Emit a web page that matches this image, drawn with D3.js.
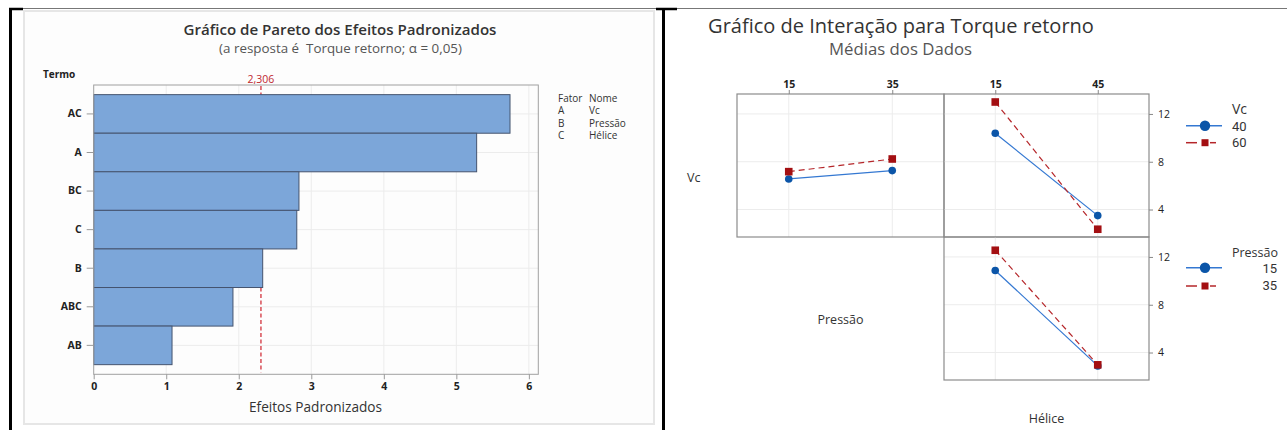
<!DOCTYPE html>
<html>
<head>
<meta charset="utf-8">
<script src="https://cdn.jsdelivr.net/npm/d3@7"></script>
<style>
  html, body { margin: 0; padding: 0; background: #fff; }
  svg { display: block; font-family: "Open Sans", "Noto Sans", sans-serif; }
  .pre { white-space: pre; }
</style>
</head>
<body>
<svg id="chart" width="1287" height="430"></svg>
<script>
// ---- Pareto of standardized effects ----
const paretoTerms = ["AC", "A", "BC", "C", "B", "ABC", "AB"];
const paretoEffects = [5.74, 5.28, 2.83, 2.80, 2.33, 1.92, 1.08];
const criticalValue = 2.306;
const criticalLabel = "2,306";
const paretoTickValues = [0, 1, 2, 3, 4, 5, 6];
const factorCodes = ["A", "B", "C"];
const factorNames = ["Vc", "Pressão", "Hélice"];

// ---- Interaction plot (means of data) ----
const vcLevels = ["40", "60"];
const pressaoLevels = [15, 35];
const heliceLevels = [15, 45];
const vc40ByPressao = [6.56, 7.26];
const vc60ByPressao = [7.17, 8.23];
const vc40ByHelice = [10.38, 3.49];
const vc60ByHelice = [13.0, 2.35];
const pressao15ByHelice = [10.87, 2.88];
const pressao35ByHelice = [12.56, 2.97];
const meanTickValues = [4, 8, 12];

const svg = d3.select("#chart");

// shrink/grow a text element's font so it spans the given width
function fitWidth(sel, w) {
  const node = sel.node();
  const fs = parseFloat(sel.attr("font-size"));
  const len = node.getComputedTextLength();
  if (len > 0) sel.attr("font-size", (fs * w / len).toFixed(2));
  return sel;
}

// ---- cell borders of the surrounding table ----
svg.append("line").attr("x1", 10).attr("x2", 1287).attr("y1", 8.5).attr("y2", 8.5)
  .attr("stroke", "#777").attr("stroke-width", 1);
svg.append("line").attr("x1", 9).attr("x2", 23).attr("y1", 9).attr("y2", 9)
  .attr("stroke", "#000").attr("stroke-width", 2.5);
svg.append("line").attr("x1", 656).attr("x2", 677).attr("y1", 9).attr("y2", 9)
  .attr("stroke", "#000").attr("stroke-width", 2.5);
svg.append("line").attr("x1", 10.5).attr("x2", 10.5).attr("y1", 8).attr("y2", 430)
  .attr("stroke", "#000").attr("stroke-width", 3);
svg.append("line").attr("x1", 663.5).attr("x2", 663.5).attr("y1", 8).attr("y2", 430)
  .attr("stroke", "#000").attr("stroke-width", 3);

// =================== LEFT: Pareto chart ===================
const left = svg.append("g");
left.append("rect").attr("x", 24).attr("y", 11).attr("width", 630).attr("height", 413)
  .attr("fill", "#fdfdfd").attr("stroke", "#e6e6e6").attr("stroke-width", 2);

fitWidth(left.append("text").attr("x", 340).attr("y", 35).attr("text-anchor", "middle")
  .attr("font-size", 16).attr("font-weight", 600).attr("fill", "#333")
  .text("Gráfico de Pareto dos Efeitos Padronizados"), 313);
fitWidth(left.append("text").attr("class", "pre").attr("x", 340.5).attr("y", 53).attr("text-anchor", "middle")
  .attr("font-size", 13).attr("fill", "#555")
  .text("(a resposta é  Torque retorno; α = 0,05)"), 243);

const px = d3.scaleLinear().domain([0, 6.13]).range([93.7, 538.3]);
const py = d3.scaleBand().domain(paretoTerms).range([85, 374.3]).paddingInner(0).paddingOuter(0.25);
const plotTop = 85, plotBottom = 374.3;

// grid
left.append("g").selectAll("line").data(paretoTickValues.slice(1)).join("line")
  .attr("x1", d => px(d)).attr("x2", d => px(d)).attr("y1", plotTop).attr("y2", plotBottom)
  .attr("stroke", "#ececec").attr("stroke-width", 1);
left.append("g").selectAll("line").data(paretoTerms).join("line")
  .attr("x1", px(0)).attr("x2", px.range()[1])
  .attr("y1", d => py(d) + py.bandwidth() / 2).attr("y2", d => py(d) + py.bandwidth() / 2)
  .attr("stroke", "#ececec").attr("stroke-width", 1);

// critical value reference line (behind bars)
left.append("line").attr("x1", px(criticalValue)).attr("x2", px(criticalValue))
  .attr("y1", plotTop + 1).attr("y2", plotBottom - 2)
  .attr("stroke", "#d2323c").attr("stroke-width", 1.3).attr("stroke-dasharray", "4,2.5");
left.append("text").attr("x", px(criticalValue)).attr("y", 83).attr("text-anchor", "middle")
  .attr("font-size", 10.5).attr("fill", "#c0282f").text(criticalLabel);

// bars
left.append("g").selectAll("rect").data(paretoTerms).join("rect")
  .attr("x", px(0)).attr("y", d => py(d))
  .attr("width", (d, i) => px(paretoEffects[i]) - px(0))
  .attr("height", py.bandwidth())
  .attr("fill", "#7ca6d9").attr("stroke", "#45546f").attr("stroke-width", 1);

// frame
left.append("rect").attr("x", px(0)).attr("y", plotTop)
  .attr("width", px.range()[1] - px(0)).attr("height", plotBottom - plotTop)
  .attr("fill", "none").attr("stroke", "#a0a0a0").attr("stroke-width", 1);

// axes
const yAx = left.append("g").attr("transform", `translate(${px(0)},0)`)
  .call(d3.axisLeft(py).tickSize(7).tickPadding(5));
yAx.select(".domain").remove();
yAx.selectAll("line").attr("stroke", "#999");
yAx.selectAll("text").attr("font-size", 10.5).attr("font-weight", 700).attr("fill", "#222")
  .attr("font-family", "'Open Sans', sans-serif");

const xAx = left.append("g").attr("transform", `translate(0,${plotBottom})`)
  .call(d3.axisBottom(px).tickValues(paretoTickValues).tickSize(5).tickPadding(3).tickFormat(d3.format("d")));
xAx.select(".domain").remove();
xAx.selectAll("line").attr("stroke", "#999");
xAx.selectAll("text").attr("font-size", 10.5).attr("font-weight", 700).attr("fill", "#222")
  .attr("font-family", "'Open Sans', sans-serif");

left.append("text").attr("x", 43).attr("y", 78).attr("font-size", 10).attr("font-weight", 700)
  .attr("fill", "#222").text("Termo");
fitWidth(left.append("text").attr("x", 315.5).attr("y", 411.5).attr("text-anchor", "middle")
  .attr("font-size", 14).attr("fill", "#333").text("Efeitos Padronizados"), 133);

// factor table
const legendRows = [["Fator", "Nome"]].concat(factorCodes.map((c, i) => [c, factorNames[i]]));
legendRows.forEach((r, i) => {
  left.append("text").attr("x", 558).attr("y", 101.5 + i * 12.6).attr("font-size", 10)
    .attr("fill", "#333").text(r[0]);
  left.append("text").attr("x", 589).attr("y", 101.5 + i * 12.6).attr("font-size", 10)
    .attr("fill", "#333").text(r[1]);
});

// =================== RIGHT: Interaction plot ===================
const right = svg.append("g");
fitWidth(right.append("text").attr("x", 901).attr("y", 33).attr("text-anchor", "middle")
  .attr("font-size", 19).attr("fill", "#333")
  .text("Gráfico de Interação para Torque retorno"), 386);
fitWidth(right.append("text").attr("x", 900.5).attr("y", 55).attr("text-anchor", "middle")
  .attr("font-size", 15).attr("fill", "#555").text("Médias dos Dados"), 143);

const xPressao = d3.scalePoint().domain(pressaoLevels).range([737, 944]).padding(0.5);
const xHelice = d3.scalePoint().domain(heliceLevels).range([944, 1149]).padding(0.5);
const yDomain = [1.7, 13.67];
const yRow1 = d3.scaleLinear().domain(yDomain).range([237, 94]);
const yRow2 = d3.scaleLinear().domain(yDomain).range([380, 237]);

const blue = "#0b55a8", blueLine = "#3478d2", red = "#a30f12", redLine = "#b5262a";

function panel(x, y, lowVals, highVals) {
  const g = right.append("g");
  const [x0, x1] = x.range(), [y0, y1] = y.range();
  // grid
  g.selectAll(".gx").data(x.domain()).join("line")
    .attr("x1", d => x(d)).attr("x2", d => x(d)).attr("y1", y1).attr("y2", y0)
    .attr("stroke", "#ececec");
  g.selectAll(".gy").data(meanTickValues).join("line")
    .attr("x1", x0).attr("x2", x1).attr("y1", d => y(d)).attr("y2", d => y(d))
    .attr("stroke", "#ececec");
  const levels = x.domain();
  const line = d3.line().x((d, i) => x(levels[i])).y(d => y(d));
  // low level: solid blue with circles
  g.append("path").datum(lowVals).attr("d", line).attr("fill", "none")
    .attr("stroke", blueLine).attr("stroke-width", 1.2);
  g.selectAll(".c").data(lowVals).join("circle")
    .attr("cx", (d, i) => x(levels[i])).attr("cy", d => y(d)).attr("r", 3.8).attr("fill", blue);
  // high level: dashed red with squares
  g.append("path").datum(highVals).attr("d", line).attr("fill", "none")
    .attr("stroke", redLine).attr("stroke-width", 1.2).attr("stroke-dasharray", "6,4");
  g.selectAll(".s").data(highVals).join("rect")
    .attr("x", (d, i) => x(levels[i]) - 3.8).attr("y", d => y(d) - 3.8)
    .attr("width", 7.6).attr("height", 7.6).attr("fill", red);
  // frame
  g.append("rect").attr("x", x0).attr("y", y1).attr("width", x1 - x0).attr("height", y0 - y1)
    .attr("fill", "none").attr("stroke", "#8c8c8c").attr("stroke-width", 1.2);
}

panel(xPressao, yRow1, vc40ByPressao, vc60ByPressao);
panel(xHelice, yRow1, vc40ByHelice, vc60ByHelice);
panel(xHelice, yRow2, pressao15ByHelice, pressao35ByHelice);

function styleAxis(a, bold) {
  a.select(".domain").remove();
  a.selectAll("line").attr("stroke", "#888");
  a.selectAll("text").attr("font-size", 10.5).attr("fill", "#222")
    .attr("font-weight", bold ? 700 : 400).attr("font-family", "'Open Sans', sans-serif");
}
styleAxis(right.append("g").attr("transform", "translate(0,94)")
  .call(d3.axisTop(xPressao).tickSize(4).tickPadding(2)), true);
styleAxis(right.append("g").attr("transform", "translate(0,94)")
  .call(d3.axisTop(xHelice).tickSize(4).tickPadding(2)), true);
styleAxis(right.append("g").attr("transform", "translate(1149,0)")
  .call(d3.axisRight(yRow1).tickValues(meanTickValues).tickSize(4).tickPadding(5)), false);
styleAxis(right.append("g").attr("transform", "translate(1149,0)")
  .call(d3.axisRight(yRow2).tickValues(meanTickValues).tickSize(4).tickPadding(5)), false);

// diagonal factor labels
right.append("text").attr("x", 687).attr("y", 182).attr("font-size", 12.5).attr("fill", "#333").text("Vc");
right.append("text").attr("x", d3.mean(xPressao.range())).attr("y", 324).attr("text-anchor", "middle")
  .attr("font-size", 12.5).attr("fill", "#333").text("Pressão");
right.append("text").attr("x", d3.mean(xHelice.range())).attr("y", 423).attr("text-anchor", "middle")
  .attr("font-size", 12.5).attr("fill", "#333").text("Hélice");

// legends
function legendGlyphs(yBlue, yRed) {
  right.append("line").attr("x1", 1186).attr("x2", 1222).attr("y1", yBlue).attr("y2", yBlue)
    .attr("stroke", blueLine).attr("stroke-width", 1.5);
  right.append("circle").attr("cx", 1205).attr("cy", yBlue).attr("r", 5.2).attr("fill", blue);
  right.append("line").attr("x1", 1186).attr("x2", 1197).attr("y1", yRed).attr("y2", yRed)
    .attr("stroke", redLine).attr("stroke-width", 1.5);
  right.append("line").attr("x1", 1210).attr("x2", 1216).attr("y1", yRed).attr("y2", yRed)
    .attr("stroke", redLine).attr("stroke-width", 1.5);
  right.append("rect").attr("x", 1201.5).attr("y", yRed - 3.5).attr("width", 7).attr("height", 7).attr("fill", red);
}
const numFont = "Roboto, 'Open Sans', sans-serif";
legendGlyphs(125.7, 142.7);
right.append("text").attr("x", 1232).attr("y", 114).attr("font-size", 14).attr("fill", "#333").text("Vc");
vcLevels.forEach((v, i) => right.append("text").attr("x", 1232).attr("y", 131 + i * 15.7)
  .attr("font-family", numFont).attr("font-size", 13).attr("fill", "#333").text(v));

legendGlyphs(267.7, 286);
right.append("text").attr("x", 1278).attr("y", 256.5).attr("text-anchor", "end")
  .attr("font-size", 12.5).attr("fill", "#333").text("Pressão");
pressaoLevels.forEach((v, i) => right.append("text").attr("x", 1277).attr("y", 273 + i * 17)
  .attr("text-anchor", "end").attr("font-family", numFont).attr("font-size", 13).attr("fill", "#333").text(v));
</script>
</body>
</html>
